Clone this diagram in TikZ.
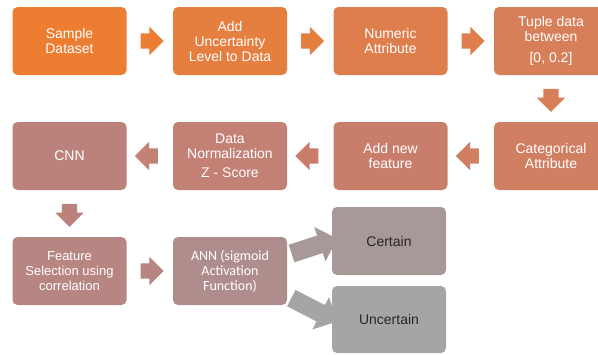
\documentclass[tikz,border=0pt]{standalone}
\usepackage{fontspec}
\setmainfont{Liberation Sans}
\newfontfamily\calibrifont{Carlito}
\usetikzlibrary{shapes.arrows,calc}

% box fills, shading from orange to grey along the flow
\definecolor{cA}{RGB}{237,125,49}
\definecolor{cB}{RGB}{229,127,63}
\definecolor{cC}{RGB}{222,126,76}
\definecolor{cD}{RGB}{215,127,88}
\definecolor{cE}{RGB}{208,127,99}
\definecolor{cF}{RGB}{201,126,108}
\definecolor{cG}{RGB}{195,128,117}
\definecolor{cH}{RGB}{187,130,124}
\definecolor{cI}{RGB}{183,133,130}
\definecolor{cJ}{RGB}{176,141,141}
\definecolor{cK}{RGB}{168,153,153}
\definecolor{cL}{RGB}{165,165,165}

% block arrow between two points, oriented from the first to the second
\newcommand\blockarrow[3][]{%
  \path let \p1=#2, \p2=#3,
    \n1={atan2(\y2-\y1,\x2-\x1)},
    \n2={veclen(\x2-\x1,\y2-\y1)} in
    node[barrow,#1,rotate=\n1,minimum height=\n2] at ($#2!.5!#3$) {};}

\begin{document}
\begin{tikzpicture}[x=1pt,y=-1pt,
  box/.style={rounded corners=5pt, minimum width=114pt, minimum height=68pt,
    align=center, text=white, inner sep=2pt,
    font=\fontsize{14}{15}\selectfont},
  barrow/.style={single arrow, draw=none, inner sep=7.5pt,
    single arrow head extend=6.5pt, anchor=center},
  wide/.style={inner sep=9pt, single arrow head extend=9pt}]

\useasboundingbox (0,0) rectangle (598,354);
\clip (0,0) rectangle (598,354);
\fill[white] (0,0) rectangle (598,354);

% first row
\node[box, fill=cA] (sd)  at (69.5,41)  {Sample\\Dataset};
\node[box, fill=cB] (unc) at (230,41)   {Add\\Uncertainty\\Level to Data};
\node[box, fill=cC] (num) at (390.5,41) {Numeric\\Attribute};
\node[box, fill=cD] (tup) at (551,41)   {Tuple data\\between\\[6pt][0, 0.2]};

% second row
\node[box, fill=cE] (cat) at (551,156)   {Categorical\\Attribute};
\node[box, fill=cF] (anf) at (390.5,156) {Add new\\feature};
\node[box, fill=cG] (nrm) at (230,156)   {Data\\Normalization\\[4pt]Z - Score};
\node[box, fill=cH] (cnn) at (69.5,156)  {CNN};

% third row
\node[box, fill=cI, font=\fontsize{13}{15}\selectfont] (fs) at (69.5,271)
  {Feature\\Selection using\\correlation};
\node[box, fill=cJ, font=\calibrifont\fontsize{14}{15}\selectfont] (ann) at (230,271)
  {ANN (sigmoid\\Activation\\Function)};
\node[box, fill=cK, text=black!85] (cer) at (389,241)   {Certain};
\node[box, fill=cL, text=black!85, minimum height=67pt] (ucr) at (389,319.5) {Uncertain};

% connectors
\blockarrow[fill=cA]{($(sd.east)+(10,0)$)}{($(unc.west)+(-13,0)$)}
\blockarrow[fill=cB]{($(unc.east)+(10,0)$)}{($(num.west)+(-13,0)$)}
\blockarrow[fill=cC]{($(num.east)+(10,0)$)}{($(tup.west)+(-13,0)$)}
\blockarrow[fill=cD]{($(tup.south)+(0,10)$)}{($(cat.north)+(0,-14)$)}
\blockarrow[fill=cE]{($(cat.west)+(-11,0)$)}{($(anf.east)+(12,0)$)}
\blockarrow[fill=cF]{($(anf.west)+(-11,0)$)}{($(nrm.east)+(12,0)$)}
\blockarrow[fill=cG]{($(nrm.west)+(-11,0)$)}{($(cnn.east)+(12,0)$)}
\blockarrow[fill=cH]{($(cnn.south)+(0,10)$)}{($(fs.north)+(0,-14)$)}
\blockarrow[fill=cI]{($(fs.east)+(10,0)$)}{($(ann.west)+(-13,0)$)}
\blockarrow[fill=cK,wide]{($(ann.east)+(0,-16)$)}{($(cer.west)+(1,-1)$)}
\blockarrow[fill=cL,wide]{($(ann.east)+(0,25)$)}{($(ucr.west)+(1,0)$)}
\end{tikzpicture}
\end{document}
